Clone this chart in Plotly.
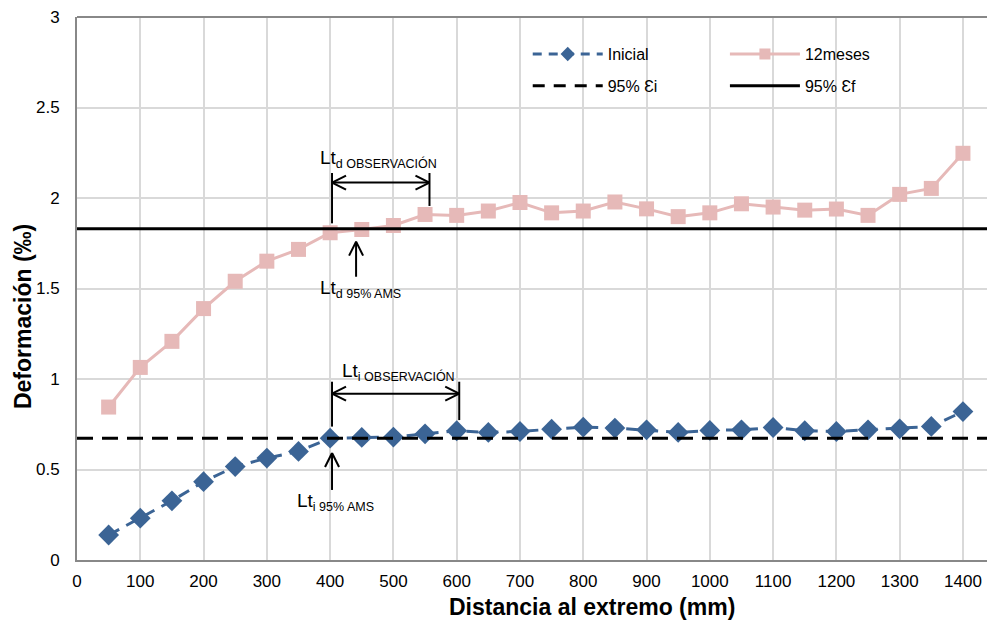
import plotly.graph_objects as go

# ---- data ----
distancia = [50, 100, 150, 200, 250, 300, 350, 400, 450, 500, 550, 600, 650, 700,
             750, 800, 850, 900, 950, 1000, 1050, 1100, 1150, 1200, 1250, 1300, 1350, 1400]
inicial = [0.138, 0.231, 0.327, 0.433, 0.516, 0.563, 0.600, 0.673, 0.677, 0.679, 0.697,
           0.714, 0.705, 0.710, 0.723, 0.734, 0.729, 0.719, 0.705, 0.716, 0.719, 0.732,
           0.714, 0.710, 0.719, 0.725, 0.738, 0.820]
meses12 = [0.845, 1.064, 1.208, 1.389, 1.540, 1.651, 1.716, 1.808, 1.826, 1.848, 1.909,
           1.904, 1.928, 1.975, 1.918, 1.928, 1.978, 1.940, 1.897, 1.918, 1.968, 1.950,
           1.933, 1.939, 1.904, 2.020, 2.053, 2.247]
eps_i_95 = 0.673
eps_f_95 = 1.830
x_range = [0, 1438]
y_range = [0, 3]
x_ticks = list(range(0, 1401, 100))
y_ticks = [0, 0.5, 1, 1.5, 2, 2.5, 3]

# transfer-length annotations (mm) and their heights (‰)
ltd_obs = [403, 557]
ltd_obs_y = {"top": 2.138, "arrow": 2.085, "bot_l": 1.860, "bot_r": 1.956}
ltd_ams = 441
ltd_ams_y = [1.565, 1.759]
lti_obs = [403, 604]
lti_obs_y = {"top": 0.985, "arrow": 0.919, "bot_l": 0.737, "bot_r": 0.773}
lti_ams = 403
lti_ams_y = [0.387, 0.591]

# label anchors (x mm, y ‰)
lbl_ltd_obs = (381, 2.215)
lbl_ltd_ams = (381, 1.496)
lbl_lti_obs = (416, 1.038)
lbl_lti_ams = (344, 0.319)

BLUE = "#3B6495"
PINK = "#E6B9B8"
FONT = "Liberation Sans, Arial, sans-serif"

fig = go.Figure()
# data traces
fig.add_trace(go.Scatter(x=distancia, y=inicial, name="Inicial", mode="lines+markers",
                         line=dict(color=BLUE, width=3, dash="12px,8px"),
                         marker=dict(symbol="diamond", size=16, color=BLUE),
                         showlegend=False))
fig.add_trace(go.Scatter(x=x_range, y=[eps_i_95, eps_i_95], name="95% Ɛi", mode="lines",
                         line=dict(color="black", width=3, dash="16px,9px"),
                         showlegend=False))
fig.add_trace(go.Scatter(x=distancia, y=meses12, name="12meses", mode="lines+markers",
                         line=dict(color=PINK, width=3),
                         marker=dict(symbol="square", size=15, color=PINK),
                         showlegend=False))
fig.add_trace(go.Scatter(x=x_range, y=[eps_f_95, eps_f_95], name="95% Ɛf", mode="lines",
                         line=dict(color="black", width=3),
                         showlegend=False))

# legend entries (smaller legend symbols, as in the reference)
fig.add_trace(go.Scatter(x=[None], y=[None], name="Inicial", mode="lines+markers",
                         line=dict(color=BLUE, width=3, dash="9px,7px"),
                         marker=dict(symbol="diamond", size=11, color=BLUE),
                         legend="legend", legendgroup="a"))
fig.add_trace(go.Scatter(x=[None], y=[None], name="95% Ɛi", mode="lines",
                         line=dict(color="black", width=3, dash="12px,9px"),
                         legend="legend", legendgroup="b"))
fig.add_trace(go.Scatter(x=[None], y=[None], name="12meses", mode="lines+markers",
                         line=dict(color=PINK, width=3),
                         marker=dict(symbol="square", size=11, color=PINK),
                         legend="legend2", legendgroup="c"))
fig.add_trace(go.Scatter(x=[None], y=[None], name="95% Ɛf", mode="lines",
                         line=dict(color="black", width=3),
                         legend="legend2", legendgroup="d"))

# pixel scale helpers for arrowheads
PW, PH = 910, 543
sx = (x_range[1] - x_range[0]) / PW
sy = (y_range[1] - y_range[0]) / PH
HL, HH = 14, 7  # head length / half height in px

shapes = []


def line(x0, y0, x1, y1):
    shapes.append(dict(type="line", x0=x0, y0=y0, x1=x1, y1=y1, xref="x", yref="y",
                       line=dict(color="black", width=2)))


def head(x, y, direction):
    if direction == "left":
        line(x + HL * sx, y + HH * sy, x, y)
        line(x, y, x + HL * sx, y - HH * sy)
    elif direction == "right":
        line(x - HL * sx, y + HH * sy, x, y)
        line(x, y, x - HL * sx, y - HH * sy)
    elif direction == "up":
        line(x - HH * sx, y - HL * sy, x, y)
        line(x, y, x + HH * sx, y - HL * sy)


for obs, yy in ((ltd_obs, ltd_obs_y), (lti_obs, lti_obs_y)):
    line(obs[0], yy["top"], obs[0], yy["bot_l"])
    line(obs[1], yy["top"], obs[1], yy["bot_r"])
    line(obs[0], yy["arrow"], obs[1], yy["arrow"])
    head(obs[0], yy["arrow"], "left")
    head(obs[1], yy["arrow"], "right")

for xa, ya in ((ltd_ams, ltd_ams_y), (lti_ams, lti_ams_y)):
    line(xa, ya[0], xa, ya[1])
    head(xa, ya[1], "up")

# top border of plot area
shapes.append(dict(type="line", xref="paper", yref="paper", x0=0, x1=1, y0=1, y1=1,
                   line=dict(color="#888888", width=2)))


def label(pos, main, sub):
    return dict(x=pos[0], y=pos[1], xref="x", yref="y", xanchor="left", yanchor="middle",
                showarrow=False,
                text=f"{main}<sub><span style='font-size:12.5px'>{sub}</span></sub>",
                font=dict(family=FONT, size=19, color="black"))


annotations = [
    label(lbl_ltd_obs, "Lt", "d OBSERVACIÓN"),
    label(lbl_ltd_ams, "Lt", "d 95% AMS"),
    label(lbl_lti_obs, "Lt", "i OBSERVACIÓN"),
    label(lbl_lti_ams, "Lt", "i 95% AMS"),
    # axis titles (placed as in the reference, off-centre)
    dict(x=0.566, y=-0.0866, xref="paper", yref="paper", xanchor="center", yanchor="middle",
         showarrow=False, text="<b>Distancia al extremo (mm)</b>",
         font=dict(family=FONT, size=23, color="black")),
    dict(x=-0.0593, y=0.4475, xref="paper", yref="paper", xanchor="center", yanchor="middle",
         showarrow=False, textangle=-90, text="<b>Deformación (‰)</b>",
         font=dict(family=FONT, size=23, color="black")),
]

axis_common = dict(showgrid=True, gridcolor="#D9D9D9", gridwidth=1.5,
                   showline=True, linecolor="#888888", linewidth=2,
                   ticks="", zeroline=False, automargin=False,
                   tickfont=dict(family=FONT, size=17, color="black"))

legend_common = dict(xanchor="left", yanchor="top", bgcolor="rgba(0,0,0,0)",
                     font=dict(family=FONT, size=16), itemwidth=70, tracegroupgap=8)

fig.update_layout(
    width=987, height=628,
    margin=dict(l=77, r=0, t=17, b=68),
    paper_bgcolor="white", plot_bgcolor="white",
    font=dict(family=FONT, color="black"),
    shapes=shapes, annotations=annotations,
    xaxis=dict(range=x_range, tickvals=x_ticks, ticklabelstandoff=5, **axis_common),
    yaxis=dict(range=y_range, tickvals=y_ticks, ticklabelstandoff=12, **axis_common),
    legend=dict(x=0.4953, y=0.963, **legend_common),
    legend2=dict(x=0.712, y=0.963, **legend_common),
)

fig.write_html("out.html", config={"displayModeBar": False},
               post_script="document.body.style.margin='0px';document.body.style.overflow='hidden';")
